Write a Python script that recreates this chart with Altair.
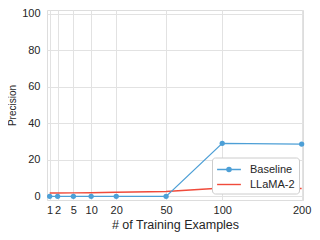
import altair as alt
import pandas as pd

examples = [1, 2, 5, 10, 20, 50, 100, 200]
baseline = [0.0, 0.0, 0.0, 0.0, 0.0, 0.0, 29.0, 28.6]
llama2 = [1.8, 1.8, 1.9, 2.0, 2.2, 2.6, 4.5, 4.3]
series = ["Baseline", "LLaMA-2"]
colors = ["#4d9fd6", "#f04b3b"]
x_ticks = [1, 2, 5, 10, 20, 50, 100, 200]
y_ticks = [0, 20, 40, 60, 80, 100]

rows = []
for x, b, l in zip(examples, baseline, llama2):
    rows.append({"n": x, "precision": b, "model": series[0]})
    rows.append({"n": x, "precision": l, "model": series[1]})
df = pd.DataFrame(rows)


def ring(r):
    return f"M{r},0A{r},{r},0,1,1,{-r},0A{r},{r},0,1,1,{r},0"


line_path = "M-1.7,0H1.7"
dot_path = line_path + ring(0.1) + ring(0.2) + ring(0.3)

font = "Liberation Sans"
x_enc = alt.X("n:Q", scale=alt.Scale(type="sqrt", domain=[0.74, 202], nice=False, zero=False),
              axis=alt.Axis(values=x_ticks, title="# of Training Examples", labelFontSize=11,
                            titleFontSize=12.5, titleFontWeight="normal", labelColor="#262626",
                            titleColor="#262626", domain=False, ticks=False, labelPadding=4,
                            titlePadding=3, gridColor="#e2e2e2", gridWidth=1, labelFlush=False,
                            labelOverlap=False, labelFont=font, titleFont=font))
y_enc = alt.Y("precision:Q", scale=alt.Scale(domain=[-2, 102], nice=False, zero=False),
              axis=alt.Axis(values=y_ticks, title="Precision", labelFontSize=11,
                            titleFontSize=10, titleFontWeight="normal", labelColor="#262626",
                            titleColor="#262626", domain=False, ticks=False, labelPadding=7,
                            titlePadding=4, gridColor="#e2e2e2", gridWidth=1, labelFont=font,
                            labelOverlap=False, labelFlush=False, titleFont=font))

legend = alt.Legend(title=None, orient="none", legendX=165, legendY=147.5,
                    symbolSize=196, symbolStrokeWidth=1.4, symbolOffset=5, symbolOpacity=1,
                    labelFontSize=11, labelFont=font, labelColor="#262626",
                    fillColor="white", strokeColor="#cccccc", padding=4,
                    cornerRadius=3, rowPadding=2, labelOffset=13)

base = alt.Chart(df).encode(x=x_enc, y=y_enc)
line_base = base.transform_filter(alt.datum.model == "Baseline").mark_line(
    color=colors[0], strokeWidth=1.2)
line_llama = base.transform_filter(alt.datum.model == "LLaMA-2").mark_line(
    color=colors[1], strokeWidth=1.5)
points = base.transform_filter(alt.datum.model == "Baseline").mark_circle(
    size=28, opacity=1, color=colors[0])
legend_layer = base.mark_point(filled=False, strokeWidth=1.4, opacity=0).encode(
    color=alt.Color("model:N", scale=alt.Scale(domain=series, range=colors), legend=legend),
    shape=alt.Shape("model:N", scale=alt.Scale(domain=series, range=[dot_path, line_path]), legend=legend),
)

chart = alt.layer(line_llama, line_base, points, legend_layer).properties(
    width=256, height=190, padding={"left": 39, "top": 2, "right": 9, "bottom": 32},
    autosize=alt.AutoSizeParams(type="none"),
).configure_view(stroke="#dcdcdc", strokeWidth=2).configure(background="white")

chart.save("out.html", embed_options={"renderer": "svg", "actions": False})
